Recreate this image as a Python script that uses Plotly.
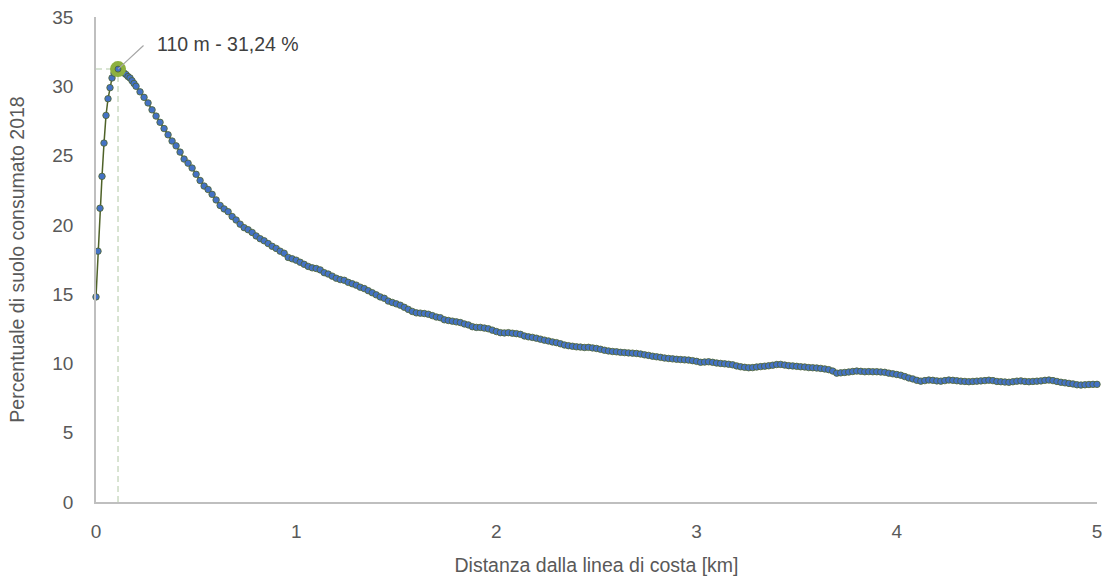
import plotly.graph_objects as go

# Distance from coastline (km) and percentage of consumed soil 2018
dist_km = [0.00, 0.01, 0.02, 0.03, 0.04, 0.05, 0.06, 0.07, 0.08, 0.09, 0.10,
           0.11, 0.12, 0.13, 0.14, 0.15, 0.16, 0.17, 0.18, 0.19, 0.20]
dist_km += [round(0.20 + 0.02 * i, 2) for i in range(1, 241)]

soil_pct = [14.8, 18.1, 21.2, 23.5, 25.9, 27.9, 29.1, 29.9, 30.6, 30.95, 31.15,
            31.24, 31.15, 31.05, 30.95, 30.85, 30.7, 30.6, 30.4, 30.2, 30.0,
            29.6, 29.2, 28.8, 28.3, 27.85, 27.4, 26.95, 26.5, 26.05, 25.7,
            25.25, 24.75, 24.45, 24.1, 23.65, 23.2, 22.8, 22.55, 22.2, 21.8,
            21.4, 21.15, 20.95, 20.6, 20.35, 20.05, 19.8, 19.65, 19.45, 19.2,
            19.0, 18.85, 18.65, 18.45, 18.3, 18.1, 17.95, 17.65, 17.55, 17.45,
            17.3, 17.15, 17.0, 16.9, 16.85, 16.75, 16.55, 16.45, 16.3, 16.15,
            16.05, 16.0, 15.85, 15.75, 15.65, 15.5, 15.4, 15.25, 15.1, 14.95,
            14.8, 14.7, 14.5, 14.4, 14.3, 14.2, 14.05, 13.9, 13.75, 13.65,
            13.63, 13.6, 13.55, 13.45, 13.35, 13.3, 13.15, 13.1, 13.05, 13.0,
            12.95, 12.85, 12.78, 12.65, 12.6, 12.6, 12.55, 12.5, 12.4, 12.3,
            12.22, 12.2, 12.22, 12.18, 12.15, 12.1, 11.98, 11.92, 11.88, 11.82,
            11.75, 11.68, 11.62, 11.55, 11.5, 11.42, 11.33, 11.28, 11.24, 11.2,
            11.18, 11.15, 11.16, 11.12, 11.08, 11.02, 10.95, 10.9, 10.86, 10.84,
            10.8, 10.78, 10.76, 10.74, 10.72, 10.68, 10.62, 10.58, 10.52, 10.48,
            10.44, 10.39, 10.36, 10.33, 10.3, 10.28, 10.26, 10.24, 10.2, 10.15,
            10.08, 10.1, 10.12, 10.08, 10.03, 10.0, 9.97, 9.94, 9.9, 9.82,
            9.76, 9.72, 9.69, 9.7, 9.74, 9.77, 9.8, 9.83, 9.87, 9.92,
            9.93, 9.88, 9.84, 9.82, 9.79, 9.76, 9.74, 9.7, 9.69, 9.67,
            9.64, 9.6, 9.55, 9.45, 9.3, 9.32, 9.35, 9.38, 9.42, 9.45,
            9.43, 9.4, 9.41, 9.4, 9.4, 9.38, 9.36, 9.3, 9.25, 9.2,
            9.15, 9.05, 8.95, 8.88, 8.78, 8.72, 8.76, 8.8, 8.78, 8.74,
            8.72, 8.76, 8.8, 8.78, 8.75, 8.72, 8.7, 8.68, 8.7, 8.72,
            8.74, 8.76, 8.79, 8.76, 8.7, 8.68, 8.66, 8.64, 8.68, 8.72,
            8.74, 8.7, 8.68, 8.7, 8.72, 8.74, 8.78, 8.8, 8.76, 8.7,
            8.64, 8.6, 8.56, 8.52, 8.46, 8.44, 8.46, 8.48, 8.49, 8.49]

peak_x = 0.11
peak_y = 31.24
peak_label = "110 m - 31,24 %"

x_ticks = [0, 1, 2, 3, 4, 5]
y_ticks = [0, 5, 10, 15, 20, 25, 30, 35]

FONT = "Liberation Sans Narrow, Liberation Sans, Arial, sans-serif"
GUIDE = "#CBDBC3"

fig = go.Figure()

# dashed guides to the peak
fig.add_trace(go.Scatter(x=[peak_x, peak_x], y=[0, peak_y], mode="lines",
                         line=dict(color=GUIDE, width=1.5, dash="6px,4px"),
                         hoverinfo="skip", showlegend=False))
fig.add_trace(go.Scatter(x=[0, peak_x], y=[peak_y, peak_y], mode="lines",
                         line=dict(color=GUIDE, width=1.5, dash="6px,4px"),
                         hoverinfo="skip", showlegend=False))

# main series
fig.add_trace(go.Scatter(
    x=dist_km, y=soil_pct, mode="lines+markers",
    line=dict(color="#4F6228", width=1.5),
    marker=dict(size=6.5, color="#4472C4", line=dict(color="#4F6228", width=0.8)),
    showlegend=False, cliponaxis=False))

# highlighted peak
fig.add_trace(go.Scatter(x=[peak_x], y=[peak_y], mode="markers",
                         marker=dict(size=16, color="#8DB03F"),
                         showlegend=False, cliponaxis=False))
fig.add_trace(go.Scatter(x=[peak_x], y=[peak_y], mode="markers",
                         marker=dict(size=6, color="#4472C4",
                                     line=dict(color="#4F6228", width=0.8)),
                         showlegend=False, cliponaxis=False))

# leader line and label
fig.add_annotation(x=peak_x, y=peak_y, xref="x", yref="y", text="",
                   showarrow=True, arrowhead=0, arrowwidth=1.2,
                   arrowcolor="#A6A6A6", ax=27, ay=-25, standoff=0)
fig.add_annotation(x=peak_x, y=peak_y, xref="x", yref="y", text=peak_label,
                   showarrow=False, xanchor="left", yanchor="middle",
                   xshift=37, yshift=25,
                   font=dict(family=FONT, size=19.5, color="#404040"))

fig.update_layout(
    width=1111, height=579,
    margin=dict(l=96, r=14, t=17, b=77, autoexpand=False),
    paper_bgcolor="white", plot_bgcolor="white",
    font=dict(family=FONT, size=19, color="#595959"),
    xaxis=dict(range=[0, 5], tickvals=x_ticks, ticktext=[str(v) for v in x_ticks],
               showgrid=False, zeroline=False, showline=True,
               linecolor="#BFBFBF", linewidth=1.5, ticks="",
               ticklabelstandoff=11,
               title=dict(text="Distanza dalla linea di costa [km]",
                          font=dict(family=FONT, size=19.5, color="#595959"),
                          standoff=18)),
    yaxis=dict(range=[0, 35], tickvals=y_ticks, ticktext=[str(v) for v in y_ticks],
               showgrid=False, zeroline=False, showline=True,
               linecolor="#BFBFBF", linewidth=1.5, ticks="",
               ticklabelstandoff=17,
               title=dict(text="Percentuale di suolo consumato 2018",
                          font=dict(family=FONT, size=19.5, color="#595959"),
                          standoff=22)),
)

fig.write_html("out.html", config={"displayModeBar": False},
               post_script="document.body.style.margin='0';document.body.style.padding='0';")
